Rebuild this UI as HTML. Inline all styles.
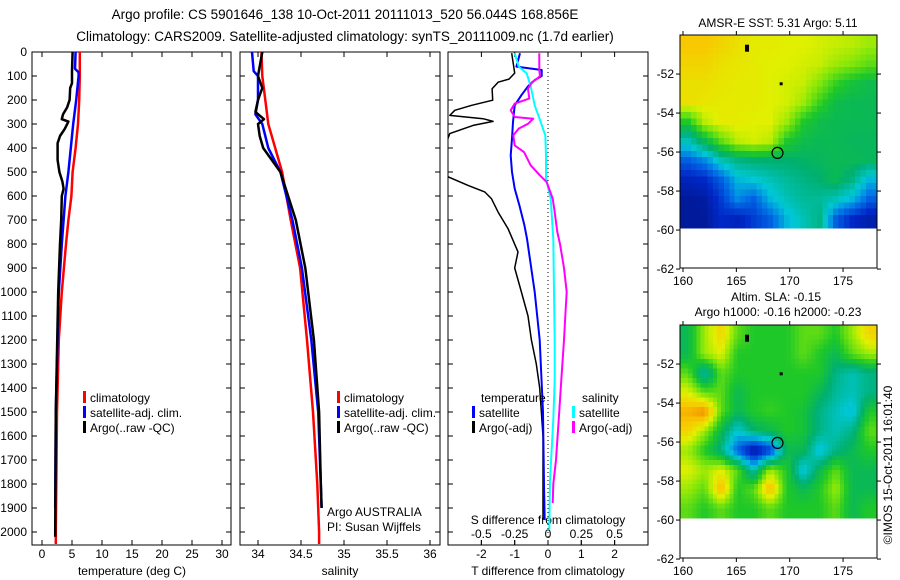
<!DOCTYPE html>
<html><head><meta charset="utf-8"><style>
html,body{margin:0;padding:0;background:#fff;}
svg{display:block;font-family:"Liberation Sans",sans-serif;}
</style></head><body>
<svg id="fig" width="900" height="580" viewBox="0 0 900 580">
<defs><clipPath id="clip3"><rect x="448" y="52" width="200" height="493"/></clipPath></defs>
<text x="345" y="19" font-size="13.5" text-anchor="middle">Argo profile: CS 5901646_138 10-Oct-2011 20111013_520 56.044S 168.856E</text>
<text x="345" y="41" font-size="13.5" text-anchor="middle">Climatology: CARS2009. Satellite-adjusted climatology: synTS_20111009.nc (1.7d earlier)</text>
<g id="g"></g>
</svg>
<script>
// ---- data ----
const tClimD=[0,100,200,300,400,500,600,700,800,1000,1200,1500,2000,2050];
const tClim=[6.3,6.3,6.2,6.0,5.6,5.1,4.9,4.4,4.0,3.3,2.8,2.5,2.3,2.3];
const tSatD=[0,70,85,100,200,300,400,500,600,700,800,1000,1500,1900];
const tSat=[5.6,5.5,6.1,6.1,5.7,5.2,4.8,4.4,3.9,3.6,3.3,2.8,2.3,2.2];
const tArgoD=[0,80,130,150,200,230,260,280,290,320,350,380,450,500,540,570,600,700,800,1000,1500,2020];
const tArgo=[5.1,5.0,5.0,4.7,4.6,4.2,3.5,3.3,4.4,3.8,3.0,2.6,2.6,2.9,3.4,3.6,3.3,3.2,3.0,2.7,2.3,2.2];
const sClimD=[0,100,300,500,700,900,1200,1500,1800,2000,2050];
const sClim=[34.04,34.05,34.12,34.28,34.38,34.49,34.57,34.64,34.69,34.71,34.71];
const sSatD=[0,80,100,200,260,300,400,500,600,700,900,1200,1500,1800,1900];
const sSat=[33.93,33.95,34.0,34.0,33.97,34.05,34.12,34.26,34.33,34.40,34.51,34.62,34.70,34.73,34.74];
const sArgoD=[0,100,150,200,250,280,300,350,400,450,500,600,700,900,1200,1500,1800,1900];
const sArgo=[34.05,34.0,34.05,34.0,33.97,34.07,34.0,34.02,34.06,34.16,34.26,34.35,34.44,34.55,34.65,34.71,34.73,34.74];
const dTArgoD=[5,88,113,126,153,201,222,243,264,278,289,306,340,430,520,556,583,611,667,736,833,900,1000,1100,1200,1300,1400,1600,1800,1950];
const dTArgo=[-1.09,-1.0,-1.17,-1.5,-1.68,-1.66,-2.29,-2.8,-2.95,-1.95,-1.65,-2.25,-2.95,-3.2,-3.0,-2.4,-1.9,-1.7,-1.5,-1.2,-0.9,-1.0,-0.8,-0.6,-0.5,-0.35,-0.25,-0.15,-0.15,-0.15];
const dTSatD=[5,61,75,100,117,143,180,222,292,361,431,500,569,639,722,778,1000,1200,1500,1800,1950];
const dTSat=[-0.84,-0.95,-0.19,-0.19,-0.4,-0.6,-0.8,-1.0,-1.05,-1.08,-1.12,-1.08,-1.0,-0.86,-0.71,-0.63,-0.4,-0.25,-0.15,-0.12,-0.1];
const dSSatD=[5,61,89,143,222,292,347,431,528,611,778,1000,1200,1367,1533,1783,1990];
const dSSat=[-0.25,-0.22,-0.16,-0.13,-0.1,-0.055,-0.02,-0.015,-0.015,0.02,0.04,0.045,0.05,0.05,0.04,0.015,0.01];
const dSArgoD=[5,75,100,113,126,153,194,215,243,271,278,299,319,347,389,417,472,514,542,611,667,750,800,900,1000,1100,1200,1367,1533,1700,1800,1880];
const dSArgo=[-0.065,-0.065,-0.06,-0.085,-0.12,-0.15,-0.14,-0.25,-0.28,-0.25,-0.11,-0.15,-0.22,-0.26,-0.25,-0.18,-0.13,-0.06,-0.01,0.035,0.05,0.07,0.09,0.12,0.14,0.13,0.12,0.1,0.08,0.06,0.04,0.035];
const depthTicks=[0,100,200,300,400,500,600,700,800,900,1000,1100,1200,1300,1400,1500,1600,1700,1800,1900,2000];
const tTicks=[0,5,10,15,20,25,30];
const sTicks=[34,34.5,35,35.5,36];
const dTTicks=[-2,-1,0,1,2];
const dSTicks=[-0.5,-0.25,0,0.25,0.5];
const dSTickLabels=["-0.5","-0.25","0","0.25","0.5"];
const lonTicks=[160,165,170,175];
const latTicks=[-52,-54,-56,-58,-60,-62];
const sstGrid=[
[.72,.72,.70,.68,.66,.66,.65,.65,.64,.63,.62,.60],
[.70,.70,.68,.67,.66,.65,.65,.64,.63,.60,.58,.55],
[.68,.68,.67,.66,.66,.65,.64,.63,.58,.52,.48,.46],
[.68,.67,.66,.66,.66,.65,.64,.60,.52,.46,.45,.45],
[.50,.62,.66,.66,.65,.65,.60,.50,.46,.45,.45,.45],
[.35,.45,.55,.62,.64,.62,.50,.46,.45,.45,.44,.44],
[.20,.25,.35,.40,.42,.42,.42,.43,.44,.45,.45,.44],
[.10,.12,.20,.30,.32,.35,.38,.40,.42,.45,.40,.30],
[.05,.06,.15,.25,.20,.30,.35,.38,.38,.35,.30,.20],
[.05,.05,.12,.10,.15,.20,.30,.35,.40,.20,.12,.08]];
const slaGrid=[
[.45,.60,.70,.55,.50,.50,.50,.55,.55,.50,.60,.70],
[.45,.60,.65,.50,.50,.50,.50,.55,.50,.45,.55,.60],
[.55,.35,.55,.50,.50,.50,.50,.50,.50,.40,.35,.40],
[.65,.55,.55,.45,.50,.50,.50,.50,.45,.38,.35,.40],
[.75,.80,.55,.45,.50,.52,.50,.48,.40,.35,.30,.50],
[.70,.60,.45,.32,.42,.45,.50,.48,.40,.35,.40,.55],
[.60,.50,.40,.20,.05,.15,.45,.45,.30,.40,.45,.50],
[.65,.60,.65,.55,.35,.60,.50,.30,.45,.55,.45,.45],
[.60,.55,.75,.50,.55,.75,.50,.45,.50,.60,.45,.45],
[.55,.50,.55,.50,.50,.55,.50,.50,.50,.55,.45,.50]];
const floatLon=168.856, floatLat=-56.044;

// ---- helpers ----
const NS="http://www.w3.org/2000/svg";
const G=document.getElementById('g');
function mk(tag,attrs,parent){const e=document.createElementNS(NS,tag);for(const k in attrs)e.setAttribute(k,attrs[k]);(parent||G).appendChild(e);return e;}
function txt(x,y,s,size,anchor,parent){const e=mk('text',{x:x,y:y,'font-size':size||12,'text-anchor':anchor||'middle'},parent);e.textContent=s;return e;}
const Y0=52, PX100=24;
const yD=d=>Y0+d*PX100/100;
const xT=v=>42+6*v;
const xS=v=>258+86*(v-34);
const xDT=v=>548+33.3*v;
const xDS=v=>548+133.3*v;

function panel(x0,x1,name){
  const r=mk('rect',{x:x0,y:Y0,width:x1-x0,height:545-Y0,fill:'none',stroke:'#000','stroke-width':1});
  
  
  depthTicks.forEach(d=>{mk('line',{x1:x0,x2:x0+5,y1:yD(d),y2:yD(d),stroke:'#000'});mk('line',{x1:x1,x2:x1-5,y1:yD(d),y2:yD(d),stroke:'#000'});});
}
function series(ds,vs,xf,color,w,name,clip){
  const pts=ds.map((d,i)=>xf(vs[i]).toFixed(1)+','+yD(d).toFixed(1)).join(' ');
  const a={points:pts,fill:'none',stroke:color,'stroke-width':w,'stroke-linejoin':'round'};
  if(clip)a['clip-path']='url(#'+clip+')';
  const p=mk('polyline',a);
  
  
}
function xticks(ticks,xf,labels,yLab){
  ticks.forEach((t,i)=>{const x=xf(t);mk('line',{x1:x,x2:x,y1:Y0,y2:Y0+5,stroke:'#000'});mk('line',{x1:x,x2:x,y1:545,y2:540,stroke:'#000'});
    const l=txt(x,yLab,labels?labels[i]:String(t),12);
    
    });
}
function legend(x,y,items){
  items.forEach((it,i)=>{mk('rect',{x:x,y:y+i*15-11,width:3,height:12,fill:it[1]});
    const t=txt(x+7,y+i*15,it[0],12,'start');
    
    });
}

// panel 1 temperature
panel(32,231,'temperature-panel');
depthTicks.forEach(d=>{const t=txt(27,yD(d)+4,String(d),12,'end');
  
  });
xticks(tTicks,xT,null,558);
let lt=txt(132,575,'temperature (deg C)',12);


series(tClimD,tClim,xT,'#f00',2.5,'temp-climatology-line');
series(tSatD,tSat,xT,'#00f',2.5,'temp-satellite-line');
series(tArgoD,tArgo,xT,'#000',2.5,'temp-argo-line');
legend(83,402,[['climatology','#f00'],['satellite-adj. clim.','#00f'],['Argo(..raw -QC)','#000']]);

// panel 2 salinity
panel(240,440,'salinity-panel');
xticks(sTicks,xS,null,558);
lt=txt(340,575,'salinity',12);


series(sClimD,sClim,xS,'#f00',2.5,'sal-climatology-line');
series(sSatD,sSat,xS,'#00f',2.5,'sal-satellite-line');
series(sArgoD,sArgo,xS,'#000',2.5,'sal-argo-line');
legend(337,402,[['climatology','#f00'],['satellite-adj. clim.','#00f'],['Argo(..raw -QC)','#000']]);
lt=txt(327,516,'Argo AUSTRALIA',12,'start');


lt=txt(327,531,'PI: Susan Wijffels',12,'start');



// panel 3 differences
panel(448,648,'difference-panel');
mk('line',{x1:548,x2:548,y1:Y0,y2:545,stroke:'#000','stroke-dasharray':'1,3'});
xticks(dTTicks,xDT,null,558);
dSTicks.forEach((t,i)=>{const x=xDS(t);mk('line',{x1:x,x2:x,y1:545,y2:540,stroke:'#000'});
  const l=txt(x,538,dSTickLabels[i],12);
  
  });
lt=txt(548,524,'S difference from climatology',12);


lt=txt(548,575,'T difference from climatology',12);


series(dTArgoD,dTArgo,xDT,'#000',1.5,'t-diff-argo-line','clip3');
series(dTSatD,dTSat,xDT,'#00f',2,'t-diff-satellite-line','clip3');
series(dSSatD,dSSat,xDS,'#0ff',2,'s-diff-satellite-line','clip3');
series(dSArgoD,dSArgo,xDS,'#f0f',2,'s-diff-argo-line','clip3');
lt=txt(481,402,'temperature',12,'start');


legend(472,417,[['satellite','#00f'],['Argo(-adj)','#000']]);
lt=txt(582,402,'salinity',12,'start');


legend(572,417,[['satellite','#0ff'],['Argo(-adj)','#f0f']]);

// maps
const stops=[[0,[0,16,122]],[.12,[0,40,200]],[.22,[0,110,230]],[.32,[0,200,215]],[.42,[0,176,110]],[.5,[30,200,40]],[.58,[130,230,10]],[.65,[225,240,0]],[.72,[248,200,0]],[.82,[240,120,0]],[1,[180,0,0]]];
function cmap(v){for(let i=1;i<stops.length;i++){if(v<=stops[i][0]){const a=stops[i-1],b=stops[i],f=(v-a[0])/(b[0]-a[0]);return 'rgb('+a[1].map((c,k)=>Math.round(c+(b[1][k]-c)*f)).join(',')+')';}}return 'rgb(180,0,0)';}
function sample(grid,fr,fc){
  const nr=grid.length,nc=grid[0].length;
  const r=Math.max(0,Math.min(nr-1,fr-0.5)),c=Math.max(0,Math.min(nc-1,fc-0.5));
  const r0=Math.floor(r),c0=Math.floor(c),r1=Math.min(nr-1,r0+1),c1=Math.min(nc-1,c0+1);
  const a=r-r0,b=c-c0;
  return grid[r0][c0]*(1-a)*(1-b)+grid[r0][c1]*(1-a)*b+grid[r1][c0]*a*(1-b)+grid[r1][c1]*a*b;
}
function map(top,grid,name,up){
  const xL=lon=>683+(lon-160)*10.67;
  const yL=lat=>top+37+(-50.1-lat)*19.5;
  const g=mk('g',{'shape-rendering':'crispEdges'});
  
  
  const nr=grid.length*up,nc=grid[0].length*up;
  for(let r=0;r<nr;r++)for(let c=0;c<nc;c++){
    const v=sample(grid,(r+0.5)/up,(c+0.5)/up);
    const x0=680+c*197/nc,x1=680+(c+1)*197/nc;
    const y0=top+35+r*193/nr,y1=top+35+(r+1)*193/nr;
    const cell=mk('rect',{x:x0.toFixed(2),y:y0.toFixed(2),width:(x1-x0+0.6).toFixed(2),height:(y1-y0+0.6).toFixed(2),fill:cmap(v)},g);
    
    
  }
  mk('rect',{x:680,y:top+35,width:197,height:233,fill:'none',stroke:'#000'});
  mk('rect',{x:xL(166)-2,y:yL(-50.7)-4,width:4,height:7,fill:'#000'});
  mk('rect',{x:xL(169.2)-1.5,y:yL(-52.5)-1.5,width:3,height:3,fill:'#000'});
  const c=mk('circle',{cx:xL(floatLon),cy:yL(floatLat),r:5.5,fill:'none',stroke:'#000','stroke-width':1.2});
  
  
  lonTicks.forEach(t=>{const x=xL(t);mk('line',{x1:x,x2:x,y1:top+35,y2:top+31,stroke:'#000'});mk('line',{x1:x,x2:x,y1:top+268,y2:top+272,stroke:'#000'});
    const l=txt(x,top+285,String(t),12);
    
    });
  latTicks.forEach(t=>{const y=yL(t);mk('line',{x1:680,x2:676,y1:y,y2:y,stroke:'#000'});mk('line',{x1:877,x2:881,y1:y,y2:y,stroke:'#000'});
    const l=txt(674,y+4,String(t),12,'end');
    
    });
}
map(0,sstGrid,'sst-map',3);
lt=txt(778,27,'AMSR-E SST: 5.31 Argo: 5.11',12);


map(290,slaGrid,'sla-map',4);
lt=txt(776,301,'Altim. SLA: -0.15',12);


lt=txt(778,316,'Argo h1000: -0.16 h2000: -0.23',12);


lt=mk('text',{x:0,y:0,'font-size':12,'text-anchor':'middle',transform:'translate(892,465) rotate(-90)'});
lt.textContent='©IMOS 15-Oct-2011 16:01:40';


</script>
</body></html>
